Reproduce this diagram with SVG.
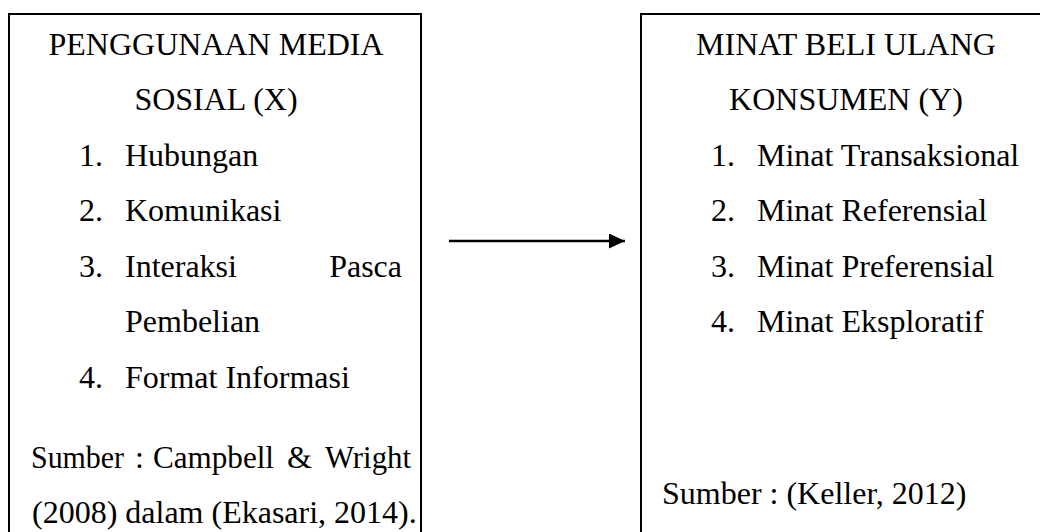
<svg xmlns="http://www.w3.org/2000/svg" width="1040" height="532" viewBox="0 0 1040 532">
<defs>
<style>
.box{fill:#fff;stroke:#000;stroke-width:2}
.t{font-family:"Liberation Serif","Times New Roman",serif;font-size:32px;fill:#000}
.c{text-anchor:middle}
.e{text-anchor:end}
</style>
<marker id="ah" markerWidth="16" markerHeight="15" refX="16" refY="7.5" orient="auto" markerUnits="userSpaceOnUse">
<path d="M0,0 L16,7.5 L0,15 Z" fill="#000"/>
</marker>
</defs>
<rect x="0" y="0" width="1040" height="532" fill="#fff"/>
<g id="node-x">
<rect class="box" x="9" y="14" width="412" height="600"/>
<text class="t c" x="216" y="55">PENGGUNAAN MEDIA</text>
<text class="t c" x="216" y="110">SOSIAL (X)</text>
<text class="t" x="79" y="166">1.</text><text class="t" x="125" y="166">Hubungan</text>
<text class="t" x="79" y="221">2.</text><text class="t" x="125" y="221">Komunikasi</text>
<text class="t" x="79" y="277">3.</text><text class="t" x="125" y="277">Interaksi</text><text class="t e" x="402" y="277">Pasca</text>
<text class="t" x="125" y="332">Pembelian</text>
<text class="t" x="79" y="388">4.</text><text class="t" x="125" y="388">Format Informasi</text>
<text class="t" x="31" y="468" textLength="93" lengthAdjust="spacingAndGlyphs">Sumber</text><text class="t" x="135" y="468">:</text><text class="t" x="153" y="468" textLength="121" lengthAdjust="spacingAndGlyphs">Campbell</text><text class="t" x="287" y="468">&amp;</text><text class="t" x="325" y="468" textLength="86" lengthAdjust="spacingAndGlyphs">Wright</text>
<text class="t" x="32" y="523">(2008) dalam (Ekasari, 2014).</text>
</g>
<g id="node-y">
<rect class="box" x="641" y="14" width="412" height="600"/>
<text class="t c" x="846" y="55">MINAT BELI ULANG</text>
<text class="t c" x="846" y="110">KONSUMEN (Y)</text>
<text class="t" x="711" y="166">1.</text><text class="t" x="757" y="166">Minat Transaksional</text>
<text class="t" x="711" y="221">2.</text><text class="t" x="757" y="221">Minat Referensial</text>
<text class="t" x="711" y="277">3.</text><text class="t" x="757" y="277">Minat Preferensial</text>
<text class="t" x="711" y="332">4.</text><text class="t" x="757" y="332">Minat Eksploratif</text>
<text class="t" x="662" y="504">Sumber : (Keller, 2012)</text>
</g>
<g id="connectors">
<line x1="449" y1="241" x2="625" y2="241" stroke="#000" stroke-width="2.5" marker-end="url(#ah)"/>
</g>
</svg>
